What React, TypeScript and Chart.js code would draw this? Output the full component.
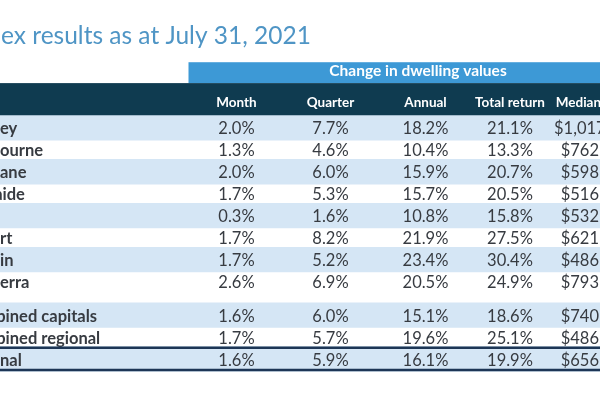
import React, { useEffect, useRef } from "react";
import { Chart, registerables } from "chart.js";

Chart.register(...registerables);

// ---------- data ----------
const titleText = "Index results as at July 31, 2021";
const groupTitle = "Change in dwelling values";
const columnLabels = ["Month", "Quarter", "Annual", "Total return", "Median value"];
const regions = [
  "Sydney",
  "Melbourne",
  "Brisbane",
  "Adelaide",
  "Perth",
  "Hobart",
  "Darwin",
  "Canberra",
  "Combined capitals",
  "Combined regional",
  "National",
];
const monthChange = [2.0, 1.3, 2.0, 1.7, 0.3, 1.7, 1.7, 2.6, 1.6, 1.7, 1.6];
const quarterChange = [7.7, 4.6, 6.0, 5.3, 1.6, 8.2, 5.2, 6.9, 6.0, 5.7, 5.9];
const annualChange = [18.2, 10.4, 15.9, 15.7, 10.8, 21.9, 23.4, 20.5, 15.1, 19.6, 16.1];
const totalReturn = [21.1, 13.3, 20.7, 20.5, 15.8, 27.5, 30.4, 24.9, 18.6, 25.1, 19.9];
const medianValueK = [1017, 762, 598, 516, 532, 621, 486, 793, 740, 486, 656];

// ---------- layout (the picture is a crop of a wider table) ----------
const W = 600;
const H = 400;
const TITLE_HIDDEN = 3; // characters of the title left of the crop
const LABEL_HIDDEN = [4, 4, 5, 4.7, 4.92, 4, 4, 4, 3.4, 3.4, 5]; // characters cut at the left edge
const TABLE_TOP = 106.5;
const ROW_H = 24.7;
const GAP_AFTER = 8;
const GAP = 13;
const GROUP_LEFT = 188.5;
const GROUP_TOP = 45;
const HEAD_TOP = 68.5;
const COL_CENTERS = [236.5, 330.5, 425.5, 510, 596];
const VALUE_CENTERS = [236.5, 330.5, 425.5, 510, 584];

const FONT = "Lato, 'Open Sans', sans-serif";
const TEXT = "#373b41";
const LIGHT = "#d5e6f5";
const NAVY = "#0f3b50";
const GROUP_BG = "#3d99d6";
const TITLE_C = "#4f95c5";
const RULE = "#1d3656";

const rowTop = (i: number) => TABLE_TOP + i * ROW_H + (i >= GAP_AFTER ? GAP : 0);
const pct = (v: number) => v.toFixed(1) + "%";
const money = (k: number) => "$" + k.toLocaleString("en-US") + "k";

const columnsData = [monthChange, quarterChange, annualChange, totalReturn];

function prefixWidth(ctx: CanvasRenderingContext2D, s: string, n: number) {
  const whole = Math.floor(n);
  const frac = n - whole;
  let w = ctx.measureText(s.slice(0, whole)).width;
  if (frac > 0 && whole < s.length) w += ctx.measureText(s[whole]).width * frac;
  return w;
}

const tablePlugin = {
  id: "tablePlugin",
  beforeDatasetsDraw(chart: any) {
    const { ctx, scales } = chart;
    const x = scales.x;
    const y = scales.y;
    ctx.save();
    // group header band
    ctx.fillStyle = GROUP_BG;
    const gx0 = x.getPixelForValue(GROUP_LEFT);
    const gx1 = x.getPixelForValue(W);
    const gy0 = y.getPixelForValue(GROUP_TOP);
    const gy1 = y.getPixelForValue(HEAD_TOP);
    ctx.fillRect(gx0, gy0, gx1 - gx0, gy1 - gy0);
    // column header band
    ctx.fillStyle = NAVY;
    const hy1 = y.getPixelForValue(TABLE_TOP);
    ctx.fillRect(x.getPixelForValue(0), gy1, gx1 - x.getPixelForValue(0), hy1 - gy1);
    ctx.restore();
  },
  afterDatasetsDraw(chart: any) {
    const { ctx, scales } = chart;
    const x = scales.x;
    const y = scales.y;
    ctx.save();
    // title
    ctx.font = `400 24.5px ${FONT}`;
    ctx.fillStyle = TITLE_C;
    ctx.textAlign = "left";
    ctx.textBaseline = "alphabetic";
    ctx.fillText(titleText, x.getPixelForValue(1) - prefixWidth(ctx, titleText, TITLE_HIDDEN), y.getPixelForValue(25));

    // group title
    ctx.font = `700 15.5px ${FONT}`;
    ctx.fillStyle = "#ffffff";
    ctx.textAlign = "center";
    ctx.fillText(groupTitle, x.getPixelForValue(418), y.getPixelForValue(61));

    // column headers
    ctx.font = `700 13.5px ${FONT}`;
    columnLabels.forEach((c, j) => {
      ctx.fillText(c, x.getPixelForValue(COL_CENTERS[j]), y.getPixelForValue(95));
    });

    // rows
    ctx.fillStyle = TEXT;
    regions.forEach((name, i) => {
      const base = y.getPixelForValue(rowTop(i) + 19.8);
      ctx.font = `700 16.5px ${FONT}`;
      ctx.textAlign = "left";
      ctx.fillText(name, x.getPixelForValue(0) - prefixWidth(ctx, name, LABEL_HIDDEN[i]), base);
      ctx.font = `400 16.5px ${FONT}`;
      ctx.textAlign = "center";
      columnsData.forEach((arr, j) => {
        ctx.fillText(pct(arr[i]), x.getPixelForValue(VALUE_CENTERS[j]), base);
      });
      ctx.fillText(money(medianValueK[i]), x.getPixelForValue(VALUE_CENTERS[4]), base);
    });

    // rules around the national row
    const last = regions.length - 1;
    ctx.strokeStyle = RULE;
    ctx.lineWidth = 2.5;
    [rowTop(last) - 0.3, rowTop(last) + ROW_H].forEach((v) => {
      const py = y.getPixelForValue(v);
      ctx.beginPath();
      ctx.moveTo(x.getPixelForValue(0), py);
      ctx.lineTo(x.getPixelForValue(W), py);
      ctx.stroke();
    });
    ctx.restore();
  },
};

export default function App() {
  const ref = useRef<HTMLCanvasElement>(null);

  useEffect(() => {
    if (!ref.current) return;
    const chart = new Chart(ref.current, {
      type: "bar",
      data: {
        datasets: [
          {
            label: "row bands",
            data: regions.map((_, i) => ({ x: [0, W], y: rowTop(i) + ROW_H / 2 })) as any,
            backgroundColor: regions.map((_, i) => (i % 2 === 0 ? LIGHT : "rgba(255,255,255,0)")),
            borderWidth: 0,
            barThickness: ROW_H,
            grouped: false,
          } as any,
        ],
      },
      options: {
        indexAxis: "y",
        animation: false,
        responsive: false,
        maintainAspectRatio: false,
        layout: { padding: 0 },
        events: [],
        scales: {
          x: { type: "linear", min: 0, max: W, display: false },
          y: { type: "linear", min: 0, max: H, reverse: true, display: false },
        },
        plugins: {
          legend: { display: false },
          tooltip: { enabled: false },
          title: { display: false },
        },
      },
      plugins: [tablePlugin],
    } as any);

    let alive = true;
    if ((document as any).fonts) {
      Promise.all([
        document.fonts.load(`400 16px Lato`),
        document.fonts.load(`700 16px Lato`),
      ])
        .then(() => {
          if (alive) chart.draw();
        })
        .catch(() => {});
    }
    return () => {
      alive = false;
      chart.destroy();
    };
  }, []);

  return (
    <div style={{ position: "fixed", left: 0, top: 0, width: W, height: H, background: "#ffffff" }}>
      <canvas ref={ref} width={W} height={H} style={{ display: "block", width: W, height: H }} />
    </div>
  );
}
